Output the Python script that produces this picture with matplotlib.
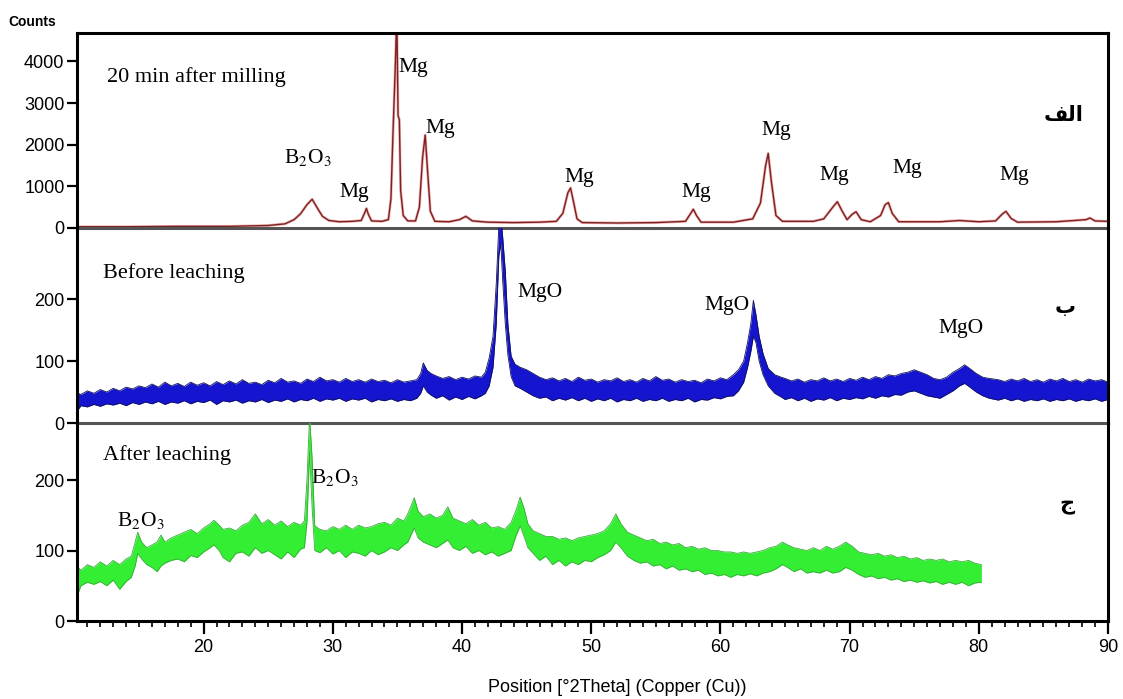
import matplotlib
matplotlib.use("Agg")
from matplotlib import pyplot as plt
from matplotlib.ticker import MultipleLocator

plt.rcParams['mathtext.fontset'] = 'stix'

# --- 20 min after milling (counts) ---
milled_2theta = [10.3, 14, 18, 22, 25, 26.3, 27.0, 27.5, 28.0, 28.4, 28.8, 29.2, 29.7, 30.5, 31.5,
                 32.2, 32.45, 32.6, 32.75, 33.0, 33.8, 34.3, 34.5, 34.65, 34.75, 34.85, 34.95, 35.05,
                 35.15, 35.25, 35.45, 35.8, 36.4, 36.7, 36.95, 37.15, 37.35, 37.55, 37.9, 39.0, 39.8,
                 40.3, 40.8, 42, 44, 46, 47.3, 47.8, 48.2, 48.4, 48.65, 48.9, 49.3, 52, 55, 57.3,
                 57.7, 57.9, 58.15, 58.5, 61, 62.5, 63.1, 63.5, 63.7, 63.95, 64.3, 64.8, 67.2, 68.0,
                 68.7, 69.05, 69.4, 69.8, 70.2, 70.5, 70.9, 71.6, 72.4, 72.75, 73.0, 73.3, 73.8, 77,
                 78.5, 80, 81.3, 81.8, 82.1, 82.5, 83, 86, 88.3, 88.6, 89, 90]
milled_counts = [30, 30, 40, 40, 60, 100, 200, 340, 560, 690, 480, 280, 180, 150, 160,
                 180, 350, 470, 330, 170, 160, 200, 700, 2200, 3100, 4000, 5200, 2700,
                 2600, 900, 300, 170, 170, 500, 1700, 2230, 1300, 400, 160, 150, 200,
                 280, 170, 140, 130, 140, 160, 350, 850, 960, 600, 220, 130, 120, 130, 160,
                 350, 450, 300, 140, 140, 220, 600, 1500, 1790, 1100, 300, 160, 160, 220,
                 500, 630, 420, 200, 330, 390, 200, 150, 300, 560, 610, 350, 150, 150,
                 180, 150, 170, 330, 400, 230, 140, 150, 200, 240, 170, 160]

# --- before leaching: noise band read as low / high counts ---
before_2theta = [10.3, 10.5, 11.0, 11.5, 12.0, 12.5, 13.0, 13.5, 14.0, 14.5, 15.0, 15.5, 16.0, 16.5,
                 17.0, 17.5, 18.0, 18.5, 19.0, 19.5, 20.0, 20.5, 21.0, 21.5, 22.0, 22.5, 23.0, 23.5,
                 24.0, 24.5, 25.0, 25.5, 26.0, 26.5, 27.0, 27.5, 28.0, 28.5, 29.0, 29.5, 30.0, 30.5,
                 31.0, 31.5, 32.0, 32.5, 33.0, 33.5, 34.0, 34.5, 35.0, 35.5, 36.0, 36.5, 36.8, 37.0,
                 37.3, 37.6, 38.0, 38.5, 39.0, 39.5, 40.0, 40.5, 41.0, 41.5, 41.8, 42.1, 42.4, 42.65,
                 42.85, 43.0, 43.15, 43.35, 43.55, 43.8, 44.1, 44.5, 45.0, 45.5, 46.0, 46.5, 47.0,
                 47.5, 48.0, 48.5, 49.0, 49.5, 50.0, 50.5, 51.0, 51.5, 52.0, 52.5, 53.0, 53.5, 54.0,
                 54.5, 55.0, 55.5, 56.0, 56.5, 57.0, 57.5, 58.0, 58.5, 59.0, 59.5, 60.0, 60.5, 61.0,
                 61.4, 61.8, 62.1, 62.35, 62.55, 62.75, 63.0, 63.3, 63.7, 64.2, 64.7, 65.0, 65.5,
                 66.0, 66.5, 67.0, 67.5, 68.0, 68.5, 69.0, 69.5, 70.0, 70.5, 71.0, 71.5, 72.0, 72.5,
                 73.0, 73.5, 74.0, 74.5, 75.0, 75.5, 76.0, 76.5, 77.0, 77.5, 78.0, 78.5, 78.9, 79.3,
                 79.8, 80.3, 80.8, 81.5, 82.0, 82.5, 83.0, 83.5, 84.0, 84.5, 85.0, 85.5, 86.0, 86.5,
                 87.0, 87.5, 88.0, 88.5, 89.0, 89.5, 90.0]
before_low = [22, 28, 26, 30, 27, 31, 29, 32, 28, 33, 30, 34, 31, 35,
              30, 34, 32, 36, 31, 35, 33, 37, 30, 36, 34, 37, 32, 36,
              34, 38, 33, 37, 35, 39, 34, 38, 36, 40, 35, 39, 37, 40,
              35, 39, 37, 40, 34, 38, 36, 39, 35, 38, 36, 40, 48, 60,
              50, 45, 40, 44, 37, 42, 38, 43, 39, 44, 48, 60, 90, 160,
              270, 290, 230, 160, 110, 75, 60, 56, 50, 44, 40, 42, 36,
              40, 37, 41, 36, 40, 35, 39, 36, 40, 34, 38, 36, 40, 35,
              38, 36, 40, 35, 38, 36, 40, 34, 38, 37, 41, 39, 43, 44,
              52, 66, 90, 115, 140, 130, 100, 78, 60, 48, 42, 38, 41,
              36, 40, 35, 39, 37, 41, 36, 40, 38, 41, 39, 43, 40, 44,
              42, 46, 45, 50, 52, 48, 44, 42, 40, 46, 52, 60, 64, 58,
              50, 44, 40, 37, 40, 36, 39, 35, 38, 36, 39, 35, 38, 36,
              39, 35, 38, 36, 39, 35, 38]
before_high = [48, 46, 52, 48, 54, 50, 56, 52, 58, 55, 60, 57, 63, 58,
               66, 60, 64, 59, 66, 61, 65, 60, 67, 62, 68, 63, 70, 64,
               66, 62, 69, 65, 72, 66, 68, 64, 71, 67, 74, 68, 70, 66,
               72, 67, 70, 66, 71, 67, 69, 65, 70, 66, 68, 70, 80, 97,
               85, 80, 76, 72, 75, 70, 74, 71, 76, 74, 82, 105, 140, 225,
               320, 335, 300, 245, 160, 108, 95, 90, 86, 80, 74, 70, 73,
               68, 72, 67, 74, 69, 71, 66, 70, 68, 73, 67, 70, 66, 72,
               68, 75, 69, 71, 66, 70, 67, 69, 65, 71, 68, 73, 70, 78,
               86, 100, 130, 160, 198, 175, 140, 112, 88, 78, 74, 72, 68,
               71, 66, 70, 68, 73, 68, 71, 67, 72, 69, 74, 70, 75, 72,
               78, 76, 80, 82, 86, 82, 78, 72, 70, 74, 82, 88, 94, 88,
               80, 74, 72, 70, 67, 71, 68, 72, 67, 70, 66, 71, 68, 72,
               67, 70, 66, 71, 68, 70, 66]

# --- after leaching: noise band read as low / high counts ---
after_2theta = [10.3, 10.5, 11.0, 11.5, 12.0, 12.5, 13.0, 13.5, 14.0, 14.4, 14.7, 14.9, 15.2, 15.6,
                16.0, 16.4, 16.7, 17.0, 17.5, 18.0, 18.5, 19.0, 19.5, 20.0, 20.5, 20.8, 21.2, 21.5,
                22.0, 22.5, 23.0, 23.5, 24.0, 24.5, 25.0, 25.5, 26.0, 26.5, 27.0, 27.5, 27.8, 28.0,
                28.2, 28.4, 28.6, 29.0, 29.5, 30.0, 30.5, 31.0, 31.5, 32.0, 32.5, 33.0, 33.5, 34.0,
                34.5, 35.0, 35.5, 35.8, 36.1, 36.3, 36.6, 37.0, 37.5, 38.0, 38.5, 38.9, 39.3, 39.8,
                40.3, 40.8, 41.3, 41.8, 42.3, 42.8, 43.3, 43.8, 44.2, 44.5, 44.8, 45.1, 45.5, 46.0,
                46.5, 47.0, 47.5, 48.0, 48.5, 49.0, 49.5, 50.0, 50.5, 51.0, 51.5, 51.9, 52.3, 52.8,
                53.3, 53.8, 54.3, 54.8, 55.3, 55.8, 56.3, 56.8, 57.3, 57.8, 58.3, 58.8, 59.3, 59.8,
                60.3, 60.8, 61.3, 61.8, 62.3, 62.8, 63.3, 63.8, 64.3, 64.8, 65.2, 65.7, 66.2, 66.7,
                67.2, 67.7, 68.2, 68.7, 69.2, 69.7, 70.2, 70.7, 71.2, 71.7, 72.2, 72.7, 73.2, 73.7,
                74.2, 74.7, 75.2, 75.7, 76.2, 76.7, 77.2, 77.7, 78.2, 78.7, 79.2, 79.7, 80.2]
after_low = [40, 50, 55, 52, 56, 50, 58, 45, 56, 62, 78, 96, 88, 80,
             76, 70, 78, 82, 86, 88, 84, 93, 90, 98, 104, 108, 100, 90,
             84, 96, 98, 92, 104, 96, 100, 94, 88, 98, 90, 102, 104, 140,
             240, 160, 100, 97, 104, 95, 100, 90, 98, 96, 92, 100, 94, 98,
             104, 100, 108, 112, 124, 132, 118, 112, 108, 104, 110, 115, 104, 100,
             106, 96, 100, 94, 98, 92, 96, 100, 122, 135, 120, 104, 96, 86,
             92, 80, 86, 78, 84, 80, 86, 84, 90, 94, 100, 112, 104, 92,
             86, 82, 84, 78, 80, 74, 78, 72, 74, 70, 72, 66, 68, 64,
             66, 62, 66, 64, 67, 64, 68, 70, 74, 80, 76, 70, 74, 68,
             70, 68, 72, 68, 70, 76, 72, 66, 62, 64, 60, 62, 58, 60,
             56, 58, 55, 57, 54, 56, 52, 55, 52, 55, 50, 54, 55]
after_high = [76, 72, 80, 76, 84, 78, 86, 80, 88, 92, 112, 126, 112, 104,
              108, 112, 122, 112, 118, 122, 126, 130, 124, 132, 138, 143, 136, 130,
              132, 128, 136, 140, 152, 138, 144, 136, 142, 134, 140, 136, 142, 200,
              290, 230, 135, 130, 128, 134, 130, 136, 130, 136, 132, 134, 138, 140,
              136, 146, 142, 152, 165, 175, 156, 148, 152, 146, 150, 162, 146, 142,
              138, 144, 136, 140, 132, 134, 130, 140, 158, 176, 160, 138, 128, 124,
              120, 120, 116, 118, 114, 118, 120, 122, 124, 128, 138, 152, 138, 126,
              122, 118, 114, 116, 110, 112, 108, 110, 104, 106, 102, 104, 100, 100,
              98, 98, 96, 98, 96, 98, 100, 104, 106, 112, 108, 104, 102, 100,
              104, 100, 106, 102, 106, 112, 106, 98, 96, 94, 96, 92, 94, 90,
              92, 88, 90, 86, 88, 86, 88, 84, 86, 84, 86, 82, 80]

# --- annotations (text, 2theta, counts) ---
milled_labels = [(r'B$_2$O$_3$', 26.2, 1700), ('Mg', 30.5, 860), ('Mg', 35.05, 3860),
                 ('Mg', 37.2, 2400), ('Mg', 47.9, 1220), ('Mg', 57.0, 860), ('Mg', 63.2, 2350),
                 ('Mg', 67.7, 1270), ('Mg', 73.3, 1440), ('Mg', 81.6, 1270)]
before_labels = [('MgO', 44.3, 211), ('MgO', 58.8, 190), ('MgO', 76.9, 153)]
after_labels = [(r'B$_2$O$_3$', 28.3, 203), (r'B$_2$O$_3$', 13.3, 143)]

W, H = 1123, 699
fig = plt.figure(figsize=(W / 100, H / 100), dpi=100)

sans = 'Liberation Sans'
serif = 'Liberation Serif'
arabic = dict(family='DejaVu Sans', fontweight='bold', fontsize=15)


def make_axes(top, bottom):
    return fig.add_axes([77 / W, 1 - bottom / H, (1108 - 77) / W, (bottom - top) / H])


ax1 = make_axes(33, 228)
ax2 = make_axes(228, 423)
ax3 = make_axes(423, 621)

for ax in (ax1, ax2, ax3):
    ax.set_xlim(10.2, 90)
    for s in ax.spines.values():
        s.set_color('black')
        s.set_linewidth(2.2)
    ax.tick_params(axis='y', direction='out', length=7, width=1.6, labelsize=13, pad=2)
    ax.set_facecolor('none')

ax1.spines['bottom'].set_color('#555555')
ax2.spines['top'].set_visible(False)
ax2.spines['bottom'].set_color('#555555')
ax3.spines['top'].set_visible(False)

# top panel
ax1.plot(milled_2theta, milled_counts, color='#e06060', lw=2.0, alpha=0.5)
ax1.plot(milled_2theta, milled_counts, color='#7a2222', lw=1.0)
ax1.set_ylim(0, 4680)
ax1.set_yticks([0, 1000, 2000, 3000, 4000])
ax1.set_xticks([])

# middle panel
ax2.fill_between(before_2theta, before_low, before_high, color='#1515d0', lw=0)
ax2.plot(before_2theta, before_low, color='#10105a', lw=0.6)
ax2.plot(before_2theta, before_high, color='#10105a', lw=0.6)
ax2.set_ylim(0, 315)
ax2.set_yticks([0, 100, 200])
ax2.set_xticks([])

# bottom panel
ax3.fill_between(after_2theta, after_low, after_high, color='#33ee33', lw=0)
ax3.plot(after_2theta, after_low, color='#3aaa3a', lw=0.6)
ax3.plot(after_2theta, after_high, color='#3aaa3a', lw=0.6)
ax3.set_ylim(0, 281)
ax3.set_yticks([0, 100, 200])
ax3.xaxis.set_major_locator(MultipleLocator(10))
ax3.xaxis.set_minor_locator(MultipleLocator(1))
ax3.tick_params(axis='x', which='major', direction='out', length=9, width=1.6, labelsize=13, pad=4)
ax3.tick_params(axis='x', which='minor', direction='out', length=4, width=1.2)

for ax in (ax1, ax2, ax3):
    for lab in ax.get_yticklabels() + ax.get_xticklabels():
        lab.set_family(sans)

# annotations
ax1.text(12.56, 3620, '20 min after milling', family=serif, fontsize=16, va='center')
ax2.text(12.25, 242, 'Before leaching', family=serif, fontsize=16, va='center')
ax3.text(12.25, 236, 'After leaching', family=serif, fontsize=16, va='center')
for ax, labels in ((ax1, milled_labels), (ax2, before_labels), (ax3, after_labels)):
    for txt, x, y in labels:
        ax.text(x, y, txt, family=serif, fontsize=15.5, va='center')

# Arabic panel letters (alef-lam-feh written in presentation forms so it joins)
ax1.text(85.0, 2710, '\uFED2\uFEDF\uFE8D', va='center', **arabic)
ax2.text(85.9, 187, '\u0628', va='center', **arabic)
ax3.text(86.2, 164, '\u062C', va='center', **arabic)

fig.text(8 / W, 1 - 22 / H, 'Counts', fontsize=10, fontweight='bold', va='center', family=sans)
fig.text(617 / W, 1 - 687 / H, 'Position [\u00b02Theta] (Copper (Cu))', fontsize=13,
         ha='center', va='center', family=sans)

fig.savefig('out.png', dpi=100)
